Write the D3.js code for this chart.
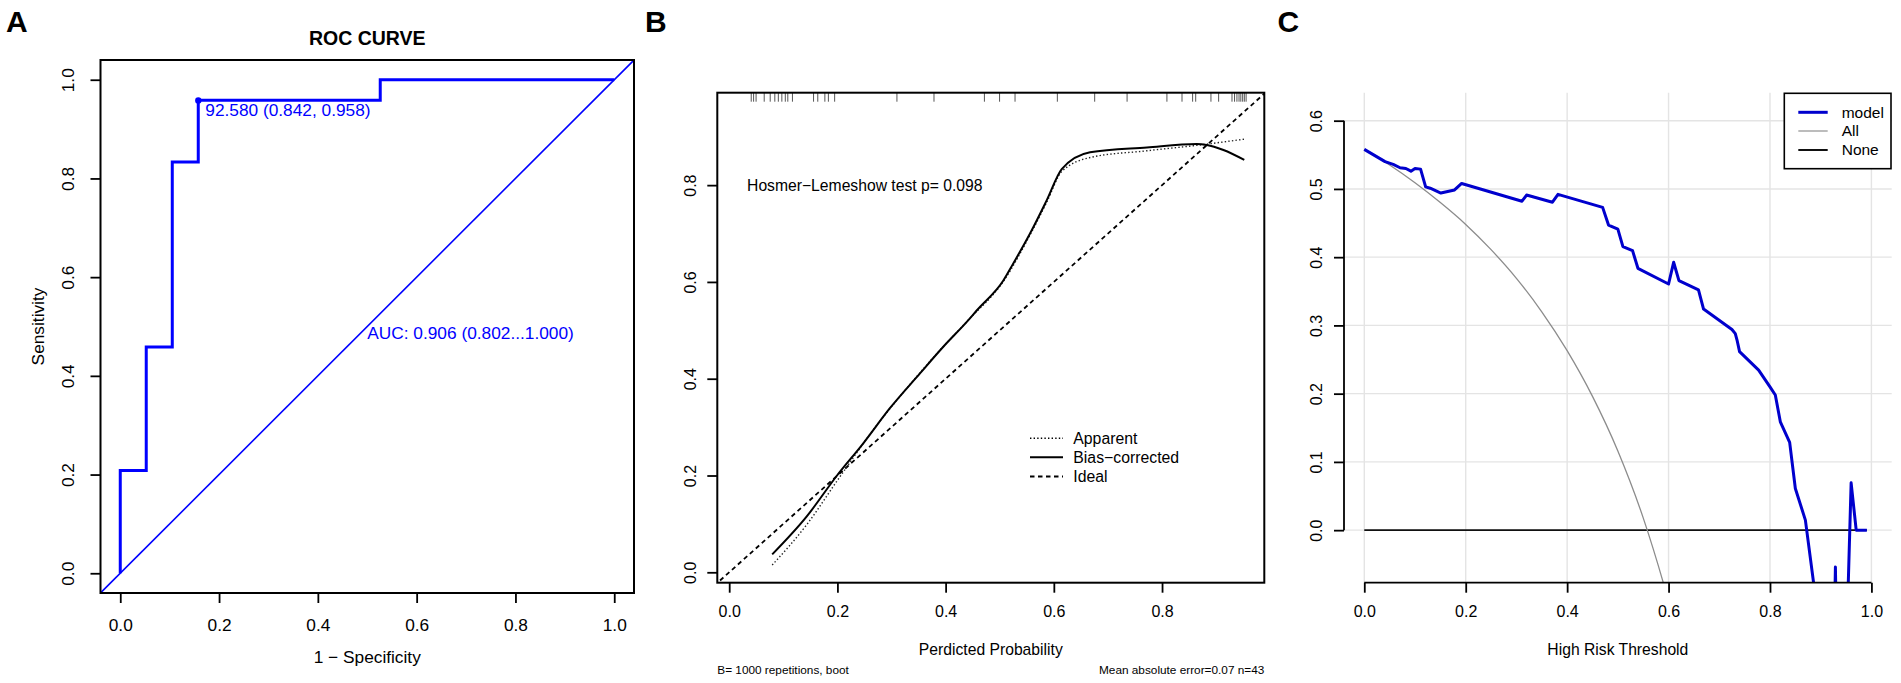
<!DOCTYPE html>
<html>
<head>
<meta charset="utf-8">
<script src="https://cdn.jsdelivr.net/npm/d3@7"></script>
<style>
  html, body { margin: 0; padding: 0; background: #fff; }
  svg { display: block; }
</style>
</head>
<body>
<svg id="chart" width="1901" height="683"></svg>
<script>
// ---------------- DATA ----------------
// Panel A: ROC curve (1 - specificity, sensitivity)
const rocFPR = [0, 0, 0.0526, 0.0526, 0.1053, 0.1053, 0.1579, 0.1579, 0.5263, 0.5263, 1.0];
const rocTPR = [0, 0.2083, 0.2083, 0.4583, 0.4583, 0.8333, 0.8333, 0.9583, 0.9583, 1.0, 1.0];
const rocBest = [0.158, 0.958];
const rocBestLabel = "92.580 (0.842, 0.958)";
const rocAucLabel = "AUC: 0.906 (0.802...1.000)";
const aTicks = [0, 0.2, 0.4, 0.6, 0.8, 1.0];

// Panel B: calibration curve
const appX = [0.0795, 0.143, 0.2047, 0.266, 0.328, 0.377, 0.44, 0.5067, 0.556, 0.587, 0.6146, 0.667, 0.772, 0.870, 0.952];
const appY = [0.015, 0.098, 0.1975, 0.294, 0.380, 0.4435, 0.519, 0.601, 0.697, 0.765, 0.828, 0.857, 0.871, 0.883, 0.895];
const biasX = [0.0795, 0.143, 0.1986, 0.2478, 0.297, 0.3526, 0.3957, 0.442, 0.4574, 0.5067, 0.525, 0.556, 0.587, 0.6146, 0.667, 0.772, 0.864, 0.8828, 0.9135, 0.952];
const biasY = [0.037, 0.115, 0.199, 0.2665, 0.339, 0.411, 0.466, 0.521, 0.541, 0.603, 0.638, 0.700, 0.769, 0.833, 0.868, 0.878, 0.885, 0.883, 0.8725, 0.852];
const idealX = [-0.05, 1.05];
const idealY = [-0.05, 1.05];
const rugX = [0.0407, 0.0451, 0.0497, 0.0647, 0.0758, 0.0843, 0.0908, 0.0973, 0.1037, 0.1083, 0.1169,
  0.1559, 0.1637, 0.1768, 0.1833, 0.1949, 0.310, 0.3785, 0.4717, 0.4997, 0.5283, 0.6065, 0.6755,
  0.7354, 0.809, 0.8369, 0.8565, 0.8622, 0.8904, 0.9046, 0.9293, 0.934, 0.9384, 0.9423, 0.9456,
  0.949, 0.9521, 0.9554];
const bTicks = [0, 0.2, 0.4, 0.6, 0.8];
const bLegend = ["Apparent", "Bias\u2212corrected", "Ideal"];

// Panel C: decision curve
const modelX = [0, 0.041, 0.057, 0.0705, 0.082, 0.092, 0.100, 0.111, 0.121, 0.130, 0.151, 0.178, 0.192,
  0.311, 0.320, 0.371, 0.382, 0.470, 0.4816, 0.500, 0.510, 0.529, 0.5396, 0.600, 0.610, 0.6205,
  0.659, 0.669, 0.725, 0.7316, 0.735, 0.740, 0.7776, 0.800, 0.8105, 0.8204, 0.8388, 0.850, 0.8698,
  0.890, 0.927, 0.929, 0.931, 0.952, 0.960, 0.970, 0.991];
const modelY = [0.558, 0.540, 0.536, 0.531, 0.530, 0.526, 0.530, 0.529, 0.503, 0.501, 0.494, 0.4985, 0.508,
  0.482, 0.491, 0.4805, 0.492, 0.473, 0.447, 0.441, 0.4155, 0.4095, 0.3837, 0.3607, 0.3925, 0.3656,
  0.352, 0.324, 0.294, 0.288, 0.2786, 0.2615, 0.2346, 0.210, 0.198, 0.1588, 0.1286, 0.0611, 0.0147,
  -0.10, -0.14, -0.054, -0.14, -0.14, 0.0694, 0.0, 0.0];
const allX = [0, 0.05, 0.1, 0.15, 0.2, 0.25, 0.3, 0.35, 0.4, 0.45, 0.5, 0.55, 0.59, 0.62];
const allY = [0.558, 0.535, 0.509, 0.480, 0.448, 0.411, 0.369, 0.320, 0.263, 0.196, 0.116, 0.018, -0.078, -0.16];
const noneX = [0, 0.991];
const noneY = [0, 0];
const cXTicks = [0, 0.2, 0.4, 0.6, 0.8, 1.0];
const cYTicks = [0, 0.1, 0.2, 0.3, 0.4, 0.5, 0.6];
const cLegend = ["model", "All", "None"];

// ---------------- DRAWING ----------------
const FONT = "'Liberation Sans', Arial, Helvetica, sans-serif";
const svg = d3.select("#chart").attr("font-family", FONT);
svg.append("rect").attr("width", 1901).attr("height", 683).attr("fill", "#fff");
const fmt = d3.format(".1f");
const zip = (xs, ys) => xs.map((x, i) => [x, ys[i]]);

function styleAxis(g, fs) {
  g.attr("font-family", FONT).attr("font-size", fs);
  g.select(".domain").remove();
  g.selectAll(".tick line").attr("stroke", "#000").attr("stroke-width", 1.8);
  g.selectAll(".tick text").attr("fill", "#000");
}
function bottomAxis(parent, scale, ticks, y0, labelOffset, fs) {
  const g = parent.append("g").attr("transform", `translate(0,${y0})`)
    .call(d3.axisBottom(scale).tickValues(ticks).tickSize(10).tickFormat(fmt));
  styleAxis(g, fs);
  g.selectAll(".tick text").attr("y", labelOffset).attr("dy", "0.35em");
  return g;
}
function leftAxis(parent, scale, ticks, x0, labelOffset, fs) {
  const g = parent.append("g").attr("transform", `translate(${x0},0)`)
    .call(d3.axisLeft(scale).tickValues(ticks).tickSize(10).tickFormat(fmt));
  styleAxis(g, fs);
  g.selectAll(".tick text").attr("x", null).attr("dy", "0.35em")
    .attr("text-anchor", "middle")
    .attr("transform", `translate(${-labelOffset},0) rotate(-90)`);
  return g;
}
function panelLetter(t, x, y) {
  svg.append("text").attr("x", x).attr("y", y).attr("font-size", 30)
    .attr("font-weight", "bold").attr("fill", "#000").text(t);
}
function clip(id, x0, y0, x1, y1) {
  svg.append("clipPath").attr("id", id).append("rect")
    .attr("x", x0).attr("y", y0).attr("width", x1 - x0).attr("height", y1 - y0);
}

// ===== Panel A =====
{
  const L = 100.5, R = 634, T = 60, B = 593;
  const x = d3.scaleLinear().domain([-0.04, 1.04]).range([L, R]);
  const y = d3.scaleLinear().domain([-0.04, 1.04]).range([B, T]);
  const blue = "#0000ff";
  clip("clipA", L, T, R, B);
  const g = svg.append("g");
  const line = d3.line().x(d => x(d[0])).y(d => y(d[1]));
  // chance diagonal (corner to corner)
  g.append("path").attr("clip-path", "url(#clipA)")
    .attr("d", line([[-0.05, -0.05], [1.05, 1.05]]))
    .attr("fill", "none").attr("stroke", blue).attr("stroke-width", 1.6);
  // ROC
  g.append("path").attr("d", line(zip(rocFPR, rocTPR)))
    .attr("fill", "none").attr("stroke", blue).attr("stroke-width", 3).attr("stroke-linejoin", "miter");
  g.append("circle").attr("cx", x(rocBest[0])).attr("cy", y(rocBest[1])).attr("r", 3.2).attr("fill", blue);
  g.append("text").attr("x", x(rocBest[0]) + 7).attr("y", y(rocBest[1]) + 16)
    .attr("font-size", 17.3).attr("fill", blue).text(rocBestLabel);
  g.append("text").attr("x", x(0.5)).attr("y", y(0.5) + 12.5)
    .attr("font-size", 17.3).attr("fill", blue).text(rocAucLabel);
  // box
  g.append("rect").attr("x", L).attr("y", T).attr("width", R - L).attr("height", B - T)
    .attr("fill", "none").attr("stroke", "#000").attr("stroke-width", 2);
  bottomAxis(g, x, aTicks, B, 32, 17.3);
  leftAxis(g, y, aTicks, L, 33, 17.3);
  g.append("text").attr("x", (L + R) / 2).attr("y", 45).attr("text-anchor", "middle")
    .attr("font-size", 19.5).attr("font-weight", "bold").text("ROC CURVE");
  g.append("text").attr("x", (L + R) / 2).attr("y", 656.7).attr("dy", "0.35em")
    .attr("text-anchor", "middle").attr("font-size", 17.3).text("1 \u2212 Specificity");
  g.append("text").attr("transform", `translate(37.5,${(T + B) / 2}) rotate(-90)`).attr("dy", "0.35em")
    .attr("text-anchor", "middle").attr("font-size", 17.3).text("Sensitivity");
  panelLetter("A", 6, 32);
}

// ===== Panel B =====
{
  const L = 717.3, R = 1264.3, T = 92.7, B = 582.7;
  const x = d3.scaleLinear().domain([-0.022, 0.989]).range([L, R]);
  const y = d3.scaleLinear().domain([-0.0215, 0.991]).range([B, T]);
  clip("clipB", L, T, R, B);
  const g = svg.append("g");
  const line = d3.line().x(d => x(d[0])).y(d => y(d[1])).curve(d3.curveMonotoneX);
  g.append("path").attr("clip-path", "url(#clipB)")
    .attr("d", d3.line().x(d => x(d[0])).y(d => y(d[1]))(zip(idealX, idealY)))
    .attr("fill", "none").attr("stroke", "#000").attr("stroke-width", 1.8).attr("stroke-dasharray", "4.5,3.5");
  g.append("path").attr("d", line(zip(appX, appY)))
    .attr("fill", "none").attr("stroke", "#222").attr("stroke-width", 1.4).attr("stroke-dasharray", "1.4,2.2");
  g.append("path").attr("d", line(zip(biasX, biasY)))
    .attr("fill", "none").attr("stroke", "#000").attr("stroke-width", 2);
  // rug of predicted values
  g.selectAll(".rug").data(rugX).join("line").attr("class", "rug")
    .attr("x1", d => x(d)).attr("x2", d => x(d)).attr("y1", T).attr("y2", T + 9)
    .attr("stroke", "#555").attr("stroke-width", 1);
  g.append("rect").attr("x", L).attr("y", T).attr("width", R - L).attr("height", B - T)
    .attr("fill", "none").attr("stroke", "#000").attr("stroke-width", 2);
  bottomAxis(g, x, bTicks, B, 29, 16);
  leftAxis(g, y, bTicks, L, 27.3, 16);
  g.append("text").attr("x", x(0.033)).attr("y", y(0.8)).attr("dy", "0.35em")
    .attr("font-size", 15.7).text("Hosmer\u2212Lemeshow test p= 0.098");
  // legend
  const ly = [438.3, 457.3, 476.5];
  const dash = ["1.4,2.2", null, "4.5,3.5"];
  const lw = [1.4, 2, 1.8];
  bLegend.forEach((t, i) => {
    g.append("line").attr("x1", 1030).attr("x2", 1063).attr("y1", ly[i]).attr("y2", ly[i])
      .attr("stroke", "#000").attr("stroke-width", lw[i]).attr("stroke-dasharray", dash[i]);
    g.append("text").attr("x", 1073.3).attr("y", ly[i]).attr("dy", "0.35em")
      .attr("font-size", 15.8).text(t);
  });
  g.append("text").attr("x", (L + R) / 2).attr("y", 649.3).attr("dy", "0.35em")
    .attr("text-anchor", "middle").attr("font-size", 15.7).text("Perdicted Probability");
  g.append("text").attr("x", L).attr("y", 674).attr("font-size", 11.8).text("B= 1000 repetitions, boot");
  g.append("text").attr("x", R).attr("y", 674).attr("text-anchor", "end")
    .attr("font-size", 11.8).text("Mean absolute error=0.07 n=43");
  panelLetter("B", 645, 32.3);
}

// ===== Panel C =====
{
  const L = 1344, R = 1891.7, T = 92.7, B = 582.7;
  const x = d3.scaleLinear().domain([-0.04, 1.04]).range([L, R]);
  const y = d3.scaleLinear().domain([-0.077, 0.641]).range([B, T]);
  clip("clipC", L, T, R, B);
  const g = svg.append("g");
  // grid
  g.selectAll(".vg").data(cXTicks).join("line").attr("class", "vg")
    .attr("x1", d => x(d)).attr("x2", d => x(d)).attr("y1", T).attr("y2", B)
    .attr("stroke", "#e4e4e4").attr("stroke-width", 1.4);
  g.selectAll(".hg").data(cYTicks).join("line").attr("class", "hg")
    .attr("x1", L).attr("x2", R).attr("y1", d => y(d)).attr("y2", d => y(d))
    .attr("stroke", "#e4e4e4").attr("stroke-width", 1.4);
  const lin = d3.line().x(d => x(d[0])).y(d => y(d[1]));
  g.append("path").attr("clip-path", "url(#clipC)")
    .attr("d", lin(zip(noneX, noneY)))
    .attr("fill", "none").attr("stroke", "#111").attr("stroke-width", 1.8);
  g.append("path").attr("clip-path", "url(#clipC)")
    .attr("d", lin.curve(d3.curveMonotoneX)(zip(allX, allY)))
    .attr("fill", "none").attr("stroke", "#8c8c8c").attr("stroke-width", 1.3);
  g.append("path").attr("clip-path", "url(#clipC)")
    .attr("d", d3.line().x(d => x(d[0])).y(d => y(d[1]))(zip(modelX, modelY)))
    .attr("fill", "none").attr("stroke", "#0000cd").attr("stroke-width", 3).attr("stroke-linejoin", "round");
  // axes (R style: line spans first to last tick)
  g.append("line").attr("x1", L).attr("x2", L).attr("y1", y(0)).attr("y2", y(0.6))
    .attr("stroke", "#000").attr("stroke-width", 1.8);
  g.append("line").attr("x1", x(0)).attr("x2", x(1)).attr("y1", B).attr("y2", B)
    .attr("stroke", "#000").attr("stroke-width", 1.8);
  bottomAxis(g, x, cXTicks, B, 29, 16);
  leftAxis(g, y, cYTicks, L, 27.3, 16);
  g.append("text").attr("x", (L + R) / 2).attr("y", 649.3).attr("dy", "0.35em")
    .attr("text-anchor", "middle").attr("font-size", 15.7).text("High Risk Threshold");
  // legend
  g.append("rect").attr("x", 1784.3).attr("y", 93.3).attr("width", 106.7).attr("height", 75.4)
    .attr("fill", "#fff").attr("stroke", "#000").attr("stroke-width", 1.6);
  const ly = [112.3, 131, 150];
  const lc = ["#0000cd", "#a0a0a0", "#111"];
  const lw = [3, 1.4, 2];
  cLegend.forEach((t, i) => {
    g.append("line").attr("x1", 1798.3).attr("x2", 1827.7).attr("y1", ly[i]).attr("y2", ly[i])
      .attr("stroke", lc[i]).attr("stroke-width", lw[i]);
    g.append("text").attr("x", 1841.7).attr("y", ly[i]).attr("dy", "0.35em")
      .attr("font-size", 15.5).text(t);
  });
  panelLetter("C", 1277.5, 32.3);
}
</script>
</body>
</html>
